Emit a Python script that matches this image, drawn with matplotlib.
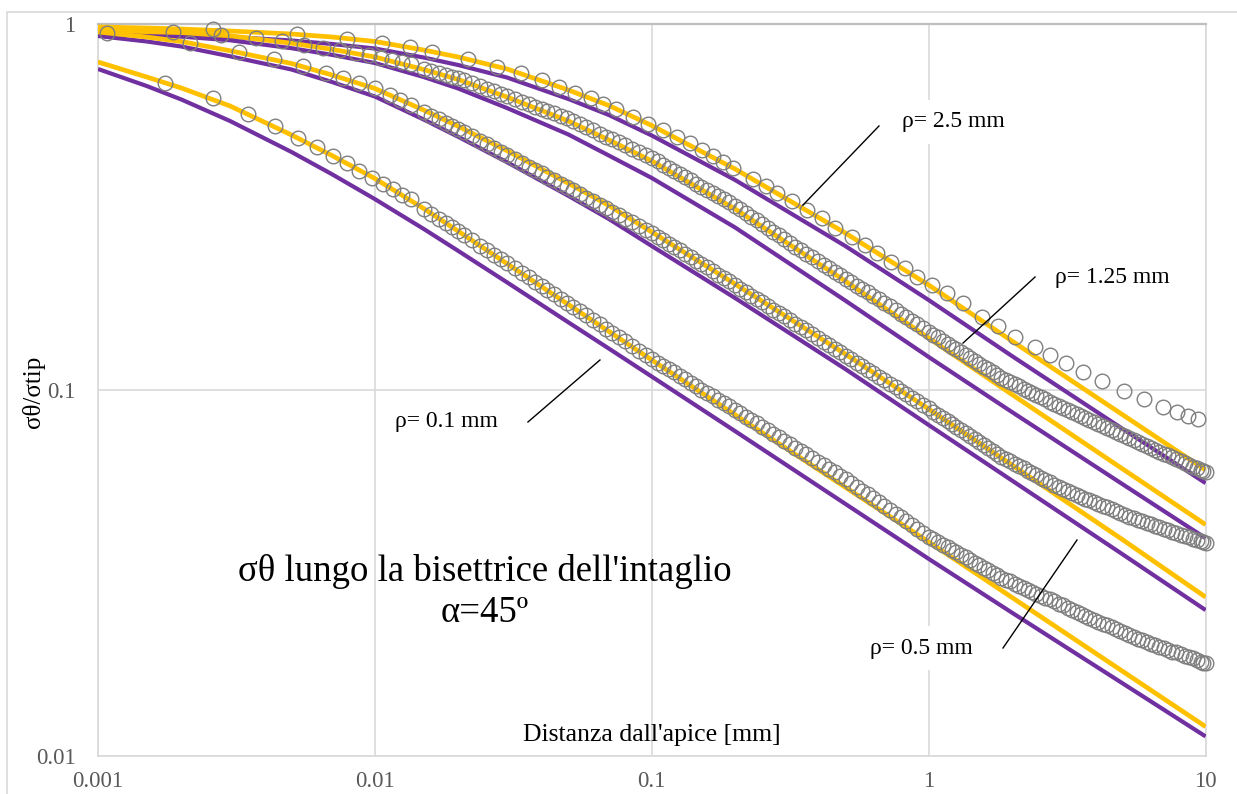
import matplotlib
matplotlib.use("Agg")
import matplotlib.pyplot as plt
from matplotlib.patches import Rectangle
from matplotlib.ticker import NullLocator

plt.rcParams['font.family'] = ['Liberation Serif', 'DejaVu Serif']

# ---------------- data ----------------
x_line = [0.001, 0.0015, 0.002, 0.003, 0.005, 0.007, 0.01, 0.015, 0.02, 0.03, 0.05, 0.07,
          0.1, 0.2, 0.5, 1, 2, 5, 10]

yellow_r01 = [0.7888, 0.7177, 0.6697, 0.5979, 0.4983, 0.4378, 0.3788, 0.3137, 0.2719, 0.2217,
              0.1714, 0.1447, 0.1209, 0.0856, 0.05426, 0.03846, 0.02712, 0.01707, 0.01203]
purple_r01 = [0.7548, 0.6781, 0.6229, 0.5440, 0.4476, 0.3892, 0.3328, 0.2759, 0.2402, 0.1971,
              0.1532, 0.1299, 0.1089, 0.07725, 0.04888, 0.03458, 0.02464, 0.01582, 0.01131]
yellow_r05 = [0.9527, 0.9231, 0.8973, 0.8465, 0.7813, 0.7269, 0.6675, 0.5830, 0.5261, 0.4513,
              0.3676, 0.3196, 0.2705, 0.1950, 0.1255, 0.0888, 0.0624, 0.03908, 0.02719]
purple_r05 = [0.9290, 0.8975, 0.8696, 0.8175, 0.7523, 0.6954, 0.6347, 0.5492, 0.4925, 0.4198,
              0.3397, 0.2936, 0.2477, 0.1785, 0.1142, 0.0803, 0.0566, 0.03564, 0.02505]
yellow_r125 = [0.9647, 0.9545, 0.9491, 0.9302, 0.8878, 0.8543, 0.8139, 0.7523, 0.7065, 0.6327,
               0.5440, 0.4827, 0.4230, 0.3127, 0.1987, 0.1388, 0.0973, 0.0610, 0.0429]
purple_r125 = [0.9438, 0.9308, 0.9255, 0.9043, 0.8603, 0.8252, 0.7837, 0.7177, 0.6675, 0.5904,
               0.4997, 0.4378, 0.3801, 0.2783, 0.1757, 0.1232, 0.0871, 0.0554, 0.0394]
yellow_r25 = [0.9832, 0.9770, 0.9708, 0.9587, 0.9408, 0.9232, 0.8975, 0.8506, 0.8139, 0.7548,
              0.6612, 0.5998, 0.5288, 0.4021, 0.2688, 0.1938, 0.1362, 0.0858, 0.0605]
purple_r25 = [0.9527, 0.9437, 0.9349, 0.9232, 0.9031, 0.8834, 0.8587, 0.8114, 0.7739, 0.7154,
              0.6249, 0.5650, 0.4966, 0.3753, 0.2477, 0.1763, 0.1239, 0.0785, 0.0557]

# FEM points, rho = 2.5 mm
x_fem25 = [0.00108, 0.00187, 0.00260, 0.00372, 0.00523, 0.00793, 0.0106, 0.0134, 0.0161, 0.0217,
           0.0276, 0.0337, 0.0401, 0.0462, 0.0528, 0.0603, 0.0667, 0.0742, 0.0855, 0.0969,
           0.110, 0.123, 0.137, 0.152, 0.166, 0.181, 0.197, 0.232, 0.259, 0.283,
           0.321, 0.364, 0.412, 0.459, 0.528, 0.589, 0.651, 0.731, 0.821, 0.907,
           1.028, 1.165, 1.330, 1.558, 1.780, 2.049, 2.421, 2.743, 3.132, 3.607,
           4.226, 5.075, 5.991, 7.019, 7.884, 8.640, 9.389]
y_fem25 = [0.947, 0.953, 0.971, 0.917, 0.941, 0.912, 0.889, 0.867, 0.840, 0.804,
           0.764, 0.736, 0.704, 0.674, 0.649, 0.629, 0.606, 0.587, 0.558, 0.534,
           0.514, 0.492, 0.474, 0.453, 0.437, 0.420, 0.405, 0.378, 0.361, 0.346,
           0.329, 0.311, 0.295, 0.277, 0.262, 0.249, 0.237, 0.224, 0.216, 0.204,
           0.194, 0.184, 0.173, 0.158, 0.150, 0.140, 0.131, 0.125, 0.119, 0.112,
           0.106, 0.0994, 0.0945, 0.0899, 0.0871, 0.0850, 0.0834]

# abscissae of the dense FEM series beyond 0.015 mm (shared by the three dense series)
x_fem_far = [
    0.015, 0.016, 0.017, 0.018, 0.019, 0.020, 0.021, 0.0225, 0.024, 0.0255, 0.027, 0.0285,
    0.03, 0.032, 0.034, 0.036, 0.038, 0.040, 0.042, 0.0445, 0.047, 0.0495, 0.052, 0.055,
    0.058, 0.0615, 0.065, 0.0685, 0.072, 0.076, 0.08, 0.085, 0.09, 0.095,
    0.1, 0.105, 0.11, 0.115, 0.12, 0.126, 0.132, 0.138, 0.145, 0.151, 0.158, 0.166,
    0.174, 0.182, 0.19, 0.199, 0.209, 0.219, 0.229, 0.239, 0.25, 0.262, 0.275, 0.287,
    0.3, 0.315, 0.33, 0.345, 0.36, 0.379, 0.398, 0.417, 0.437, 0.458, 0.48, 0.502,
    0.525, 0.55, 0.575, 0.602, 0.63, 0.66, 0.69, 0.725, 0.76, 0.795, 0.83, 0.87, 0.91, 0.955,
    1.0, 1.04, 1.08, 1.125, 1.17, 1.215, 1.26, 1.31, 1.36, 1.415, 1.47, 1.525, 1.58,
    1.64, 1.7, 1.765, 1.83, 1.9, 1.97, 2.045, 2.12, 2.2, 2.28, 2.365, 2.45, 2.545, 2.64,
    2.74, 2.84, 2.945, 3.05, 3.175, 3.3, 3.425, 3.55, 3.675, 3.8, 3.95, 4.1, 4.25, 4.4,
    4.575, 4.75, 4.925, 5.1, 5.3, 5.5, 5.7, 5.9, 6.125, 6.35, 6.575, 6.8, 7.05, 7.3,
    7.575, 7.85, 8.125, 8.4, 8.7, 9.0, 9.3, 9.6, 9.8, 10.0]

# FEM points, rho = 1.25 mm
x_fem125_near = [0.00278, 0.00462, 0.00555, 0.00650, 0.00748, 0.00855, 0.00952, 0.0105, 0.0115, 0.0125, 0.0135]
y_fem125_near = [0.935, 0.900, 0.878, 0.861, 0.851, 0.835, 0.824, 0.811, 0.799, 0.789, 0.779]
y_fem125_far = [
    0.7542, 0.7450, 0.7358, 0.7278, 0.7198, 0.7115, 0.7031, 0.6903, 0.6775, 0.6666, 0.6556, 0.6461,
    0.6366, 0.6257, 0.6148, 0.6054, 0.5959, 0.5878, 0.5796, 0.5707, 0.5617, 0.5531, 0.5444, 0.5340,
    0.5235, 0.5131, 0.5026, 0.4935, 0.4844, 0.4754, 0.4664, 0.4568, 0.4471, 0.4388,
    0.4305, 0.4218, 0.4131, 0.4055, 0.3979, 0.3899, 0.3818, 0.3743, 0.3667, 0.3600, 0.3533, 0.3461,
    0.3389, 0.3326, 0.3263, 0.3191, 0.3119, 0.3047, 0.2975, 0.2909, 0.2843, 0.2775, 0.2707, 0.2647,
    0.2587, 0.2525, 0.2463, 0.2412, 0.2360, 0.2305, 0.2250, 0.2202, 0.2153, 0.2106, 0.2059, 0.2016,
    0.1973, 0.1932, 0.1890, 0.1850, 0.1810, 0.1772, 0.1733, 0.1693, 0.1653, 0.1618, 0.1583, 0.1549,
    0.1514, 0.1480,
    0.1445, 0.1419, 0.1393, 0.1366, 0.1340, 0.1316, 0.1293, 0.1270, 0.1247, 0.1224, 0.1201, 0.1180,
    0.1160, 0.1139, 0.1119, 0.1100, 0.1082, 0.1067, 0.1052, 0.1038, 0.1024, 0.1010, 0.0997, 0.0984,
    0.0971, 0.0957, 0.0944, 0.0931, 0.0918, 0.0906, 0.0894, 0.0882, 0.0870, 0.0859, 0.0848, 0.0838,
    0.0829, 0.0818, 0.0807, 0.0797, 0.0787, 0.0777, 0.0767, 0.0758, 0.0749, 0.0739, 0.0729, 0.0721,
    0.0713, 0.0704, 0.0695, 0.0687, 0.0679, 0.0671, 0.0663, 0.0655, 0.0648, 0.0640, 0.0633, 0.0625,
    0.0618, 0.0611, 0.0605, 0.0601, 0.0597]

# FEM points, rho = 0.5 mm
x_fem05_near = [0.00215, 0.00323, 0.00432, 0.00550, 0.00666, 0.00767, 0.00876, 0.0100, 0.0113, 0.0123, 0.0135]
y_fem05_near = [0.889, 0.840, 0.804, 0.769, 0.736, 0.713, 0.691, 0.670, 0.641, 0.621, 0.602]
y_fem05_far = [
    0.5761, 0.5630, 0.5500, 0.5389, 0.5278, 0.5177, 0.5076, 0.4942, 0.4808, 0.4696, 0.4584, 0.4488,
    0.4392, 0.4283, 0.4175, 0.4083, 0.3992, 0.3913, 0.3834, 0.3748, 0.3663, 0.3589, 0.3516, 0.3438,
    0.3361, 0.3284, 0.3207, 0.3141, 0.3075, 0.3009, 0.2944, 0.2874, 0.2805, 0.2745,
    0.2685, 0.2626, 0.2567, 0.2515, 0.2464, 0.2410, 0.2356, 0.2305, 0.2254, 0.2209, 0.2164, 0.2116,
    0.2068, 0.2026, 0.1984, 0.1940, 0.1896, 0.1855, 0.1814, 0.1776, 0.1739, 0.1700, 0.1661, 0.1626,
    0.1592, 0.1556, 0.1521, 0.1489, 0.1458, 0.1423, 0.1389, 0.1358, 0.1328, 0.1299, 0.1270, 0.1243,
    0.1216, 0.1190, 0.1164, 0.1138, 0.1113, 0.1089, 0.1066, 0.1041, 0.1017, 0.0996, 0.0975, 0.0954,
    0.0933, 0.0912,
    0.0891, 0.0874, 0.0857, 0.0840, 0.0823, 0.0808, 0.0793, 0.0778, 0.0763, 0.0748, 0.0734, 0.0721,
    0.0708, 0.0695, 0.0682, 0.0670, 0.0658, 0.0648, 0.0639, 0.0629, 0.0620, 0.0611, 0.0603, 0.0594,
    0.0586, 0.0577, 0.0569, 0.0560, 0.0552, 0.0544, 0.0537, 0.0529, 0.0522, 0.0516, 0.0511, 0.0505,
    0.0500, 0.0494, 0.0488, 0.0483, 0.0478, 0.0472, 0.0467, 0.0461, 0.0456, 0.0451, 0.0446, 0.0442,
    0.0438, 0.0434, 0.0430, 0.0426, 0.0422, 0.0418, 0.0414, 0.0410, 0.0407, 0.0403, 0.0400, 0.0396,
    0.0392, 0.0389, 0.0386, 0.0384, 0.0382]

# FEM points, rho = 0.1 mm
x_fem01_near = [0.00175, 0.00260, 0.00348, 0.00436, 0.00528, 0.00618, 0.00706, 0.00793, 0.00876, 0.00976,
                0.0107, 0.0116, 0.0125, 0.0135]
y_fem01_near = [0.691, 0.629, 0.569, 0.527, 0.489, 0.462, 0.437, 0.418, 0.397, 0.380, 0.366, 0.355, 0.341, 0.333]
y_fem01_far = [
    0.3130, 0.3036, 0.2942, 0.2863, 0.2785, 0.2718, 0.2652, 0.2567, 0.2482, 0.2411, 0.2341, 0.2281,
    0.2222, 0.2155, 0.2089, 0.2033, 0.1977, 0.1929, 0.1881, 0.1830, 0.1780, 0.1736, 0.1692, 0.1647,
    0.1602, 0.1557, 0.1512, 0.1474, 0.1436, 0.1398, 0.1361, 0.1322, 0.1283, 0.1249,
    0.1216, 0.1190, 0.1164, 0.1141, 0.1118, 0.1094, 0.1070, 0.1047, 0.1024, 0.1004, 0.0984, 0.0963,
    0.0942, 0.0923, 0.0904, 0.0884, 0.0865, 0.0846, 0.0828, 0.0811, 0.0794, 0.0776, 0.0759, 0.0743,
    0.0728, 0.0712, 0.0696, 0.0682, 0.0668, 0.0652, 0.0637, 0.0623, 0.0609, 0.0596, 0.0583, 0.0570,
    0.0557, 0.0544, 0.0531, 0.0519, 0.0507, 0.0495, 0.0483, 0.0471, 0.0459, 0.0449, 0.0439, 0.0428,
    0.0418, 0.0408,
    0.0398, 0.0391, 0.0385, 0.0378, 0.0372, 0.0366, 0.0360, 0.0354, 0.0349, 0.0343, 0.0337, 0.0332,
    0.0327, 0.0322, 0.0317, 0.0312, 0.0307, 0.0303, 0.0300, 0.0296, 0.0292, 0.0288, 0.0285, 0.0281,
    0.0278, 0.0274, 0.0271, 0.0268, 0.0265, 0.0261, 0.0258, 0.0254, 0.0251, 0.0248, 0.0245, 0.0242,
    0.0239, 0.0236, 0.0233, 0.0230, 0.0228, 0.0225, 0.0222, 0.0219, 0.0217, 0.0214, 0.0211, 0.0209,
    0.0207, 0.0205, 0.0203, 0.0201, 0.0199, 0.0197, 0.0195, 0.0193, 0.0192, 0.0190, 0.0188, 0.0186,
    0.0185, 0.0183, 0.0181, 0.0180, 0.0179]

x_ticks = [0.001, 0.01, 0.1, 1, 10]
x_tick_labels = ['0.001', '0.01', '0.1', '1', '10']
y_ticks = [0.01, 0.1, 1]
y_tick_labels = ['0.01', '0.1', '1']

# ---------------- figure ----------------
W, H = 1237, 794
fig = plt.figure(figsize=(W / 100, H / 100), dpi=100)
fig.patch.set_facecolor('white')

# outer chart border
fig.add_artist(Rectangle((7 / W, -0.05), 1.2, (H - 12) / H + 0.05, transform=fig.transFigure,
                         fill=False, ec='#d9d9d9', lw=1.2))

ax = fig.add_axes([98 / W, 1 - 756 / H, 1107.6 / W, 731.7 / H])
ax.set_xscale('log')
ax.set_yscale('log')
ax.set_xlim(0.001, 10)
ax.set_ylim(0.01, 1)

PURPLE = '#7030A0'
YELLOW = '#FFC000'
GREY = '#7f7f7f'

for pv in (purple_r01, purple_r05, purple_r125, purple_r25):
    ax.plot(x_line, pv, color=PURPLE, lw=3.0, zorder=3, solid_capstyle='butt', solid_joinstyle='round')
for yv in (yellow_r01, yellow_r05, yellow_r125, yellow_r25):
    ax.plot(x_line, yv, color=YELLOW, lw=3.4, zorder=4, solid_capstyle='butt', solid_joinstyle='round')

fem_series = [
    (x_fem01_near + x_fem_far, y_fem01_near + y_fem01_far),
    (x_fem05_near + x_fem_far, y_fem05_near + y_fem05_far),
    (x_fem125_near + x_fem_far, y_fem125_near + y_fem125_far),
    (x_fem25, y_fem25),
]
for xs, ys in fem_series:
    ax.plot(xs, ys, ls='none', marker='o', ms=10.5, mfc='none', mec=GREY, mew=1.0,
            zorder=5, clip_on=False)

# axes styling
ax.set_xticks(x_ticks)
ax.set_xticklabels(x_tick_labels)
ax.set_yticks(y_ticks)
ax.set_yticklabels(y_tick_labels)
ax.xaxis.set_minor_locator(NullLocator())
ax.yaxis.set_minor_locator(NullLocator())
ax.tick_params(axis='both', length=0, labelsize=16.5, labelcolor='#595959')
ax.tick_params(axis='x', pad=10.5)
ax.tick_params(axis='y', pad=16)
ax.grid(True, which='major', color='#d9d9d9', lw=1.2, zorder=0)
ax.set_axisbelow(True)
for side in ('left', 'bottom', 'right'):
    ax.spines[side].set_color('#d9d9d9')
    ax.spines[side].set_linewidth(1.2)
ax.spines['top'].set_color('#bfbfbf')
ax.spines['top'].set_linewidth(1.6)

# labels
ax.text(0.5002, 0.0287, "Distanza dall'apice [mm]", transform=ax.transAxes, ha='center', va='center',
        fontsize=18.5, color='black', zorder=6)
fig.text(33 / W, 1 - 392 / H, 'σθ/σtip', rotation=90, ha='center', va='center', fontsize=18, color='black')

ax.text(0.3494, 0.2515, "σθ lungo la bisettrice dell'intaglio", transform=ax.transAxes,
        ha='center', va='center', fontsize=26.5, color='black', zorder=6)
ax.text(0.3494, 0.1954, 'α=45º', transform=ax.transAxes,
        ha='center', va='center', fontsize=26.5, color='black', zorder=6)

# rho annotations: (text, text pos, leader start, leader end) in axes fractions
annotations = [
    ('ρ= 2.5 mm', (0.7719, 0.8665), (0.6365, 0.7530), (0.7051, 0.8610)),
    ('ρ= 1.25 mm', (0.9155, 0.6546), (0.7810, 0.5644), (0.8460, 0.6546)),
    ('ρ= 0.1 mm', (0.3142, 0.4565), (0.3882, 0.4565), (0.4532, 0.5412)),
    ('ρ= 0.5 mm', (0.7430, 0.1476), (0.8171, 0.1476), (0.8839, 0.2952)),
]
box = dict(boxstyle='square,pad=0.5', fc='white', ec='none')
for label, (tx, ty), (x0, y0), (x1, y1) in annotations:
    ax.text(tx, ty, label, transform=ax.transAxes, ha='center', va='center', fontsize=17,
            color='black', bbox=box, zorder=2)
    ax.plot([x0, x1], [y0, y1], transform=ax.transAxes, color='black', lw=1.0, zorder=6)

fig.savefig('out.png', dpi=100)
